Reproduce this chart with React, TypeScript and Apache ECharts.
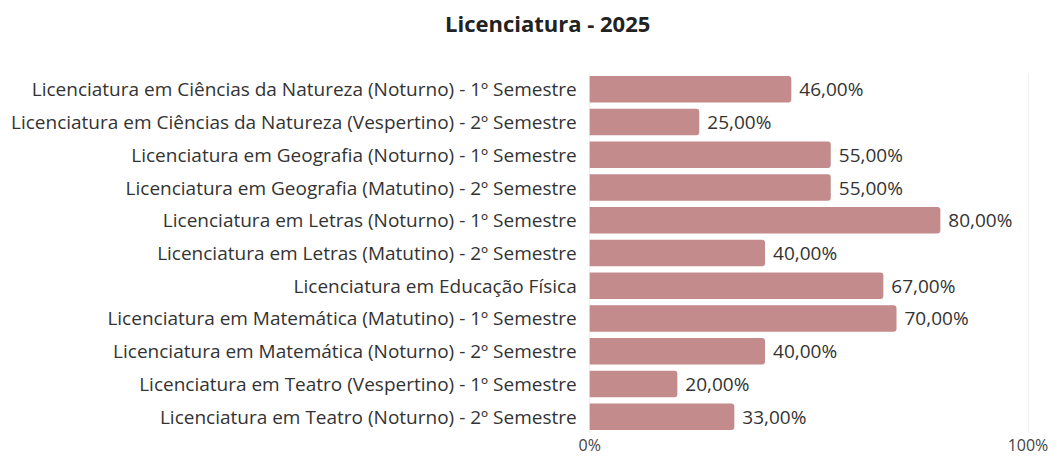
import React, { useEffect, useRef } from "react";
import * as echarts from "echarts";

const categories = [
  "Licenciatura em Ciências da Natureza (Noturno) - 1º Semestre",
  "Licenciatura em Ciências da Natureza (Vespertino) - 2º Semestre",
  "Licenciatura em Geografia (Noturno) - 1º Semestre",
  "Licenciatura em Geografia (Matutino) - 2º Semestre",
  "Licenciatura em Letras (Noturno) - 1º Semestre",
  "Licenciatura em Letras (Matutino) - 2º Semestre",
  "Licenciatura em Educação Física",
  "Licenciatura em Matemática (Matutino) - 1º Semestre",
  "Licenciatura em Matemática (Noturno) - 2º Semestre",
  "Licenciatura em Teatro (Vespertino) - 1º Semestre",
  "Licenciatura em Teatro (Noturno) - 2º Semestre",
];
const values = [46, 25, 55, 55, 80, 40, 67, 70, 40, 20, 33];

export default function App() {
  const ref = useRef<HTMLDivElement>(null);
  useEffect(() => {
    if (!ref.current) return;
    const chart = echarts.init(ref.current, null, { renderer: "svg" });
    const font = "'Open Sans', sans-serif";
    chart.setOption({
      animation: false,
      textStyle: { fontFamily: font },
      title: {
        text: "Licenciatura - 2025",
        left: 437,
        top: 4,
        padding: 0,
        textStyle: { fontFamily: font, fontSize: 22, fontWeight: "bold", color: "#222" },
      },
      grid: { left: 581, right: 29, top: 65, bottom: 24, containLabel: false },
      xAxis: {
        type: "value",
        min: 0,
        max: 100,
        interval: 100,
        axisLine: { show: false },
        axisTick: { show: false },
        splitLine: { show: true, lineStyle: { color: "#f0f0f0" } },
        axisLabel: {
          formatter: (v: number) => v + "%",
          color: "#444",
          fontSize: 16,
          fontFamily: font,
          margin: 4,
        },
      },
      yAxis: {
        type: "category",
        data: categories,
        inverse: true,
        axisLine: { show: false },
        axisTick: { show: false },
        axisLabel: { color: "#333", fontSize: 19, fontFamily: font, margin: 13 },
      },
      series: [
        {
          type: "bar",
          data: values,
          barCategoryGap: "19%",
          itemStyle: { color: "#c38b8b", borderRadius: [0, 3, 3, 0] },
          label: {
            show: true,
            position: "right",
            distance: 8,
            color: "#333",
            fontSize: 19,
            fontFamily: font,
            formatter: (p: any) => p.value.toFixed(2).replace(".", ",") + "%",
          },
        },
      ],
    });
    return () => chart.dispose();
  }, []);
  return <div ref={ref} style={{ width: 1049, height: 449 }} />;
}
